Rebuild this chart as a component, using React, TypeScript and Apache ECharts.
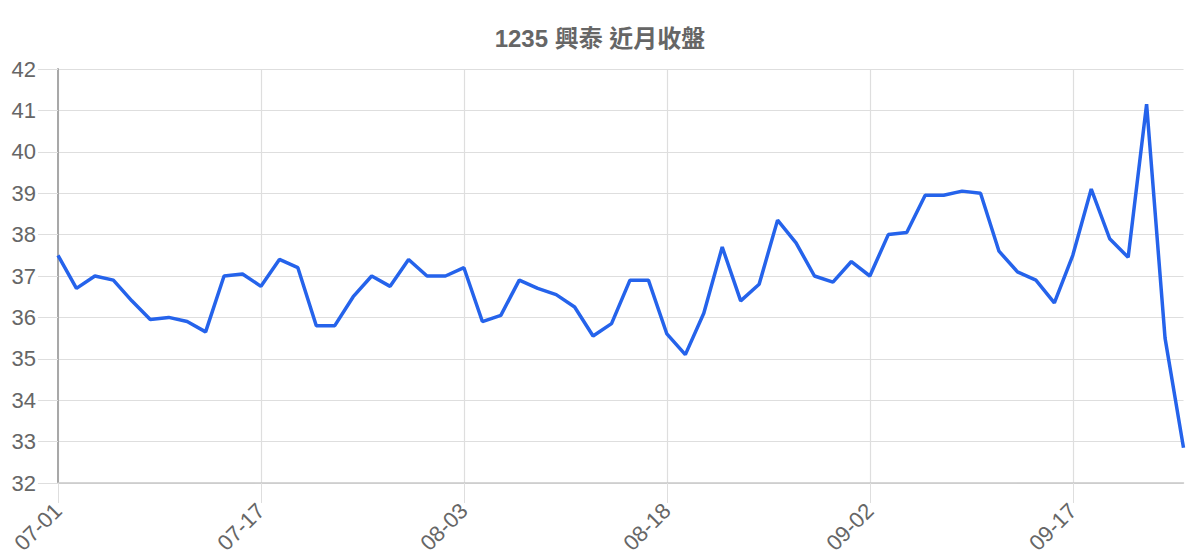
import React, { useEffect, useRef } from "react";
import * as echarts from "echarts";

const titleText = "1235 興泰 近月收盤";

const dates = [
  "07-01", "07-02", "07-03", "07-04", "07-05", "07-08", "07-09", "07-10", "07-11", "07-12", "07-15",
  "07-17", "07-18", "07-19", "07-22", "07-23", "07-24", "07-25", "07-26", "07-29", "07-30", "07-31",
  "08-03", "08-05", "08-06", "08-07", "08-08", "08-11", "08-12", "08-13", "08-14", "08-15", "08-16",
  "08-18", "08-19", "08-20", "08-21", "08-22", "08-25", "08-26", "08-27", "08-28", "08-29", "09-01",
  "09-02", "09-03", "09-04", "09-05", "09-08", "09-09", "09-10", "09-11", "09-12", "09-15", "09-16",
  "09-17", "09-18", "09-19", "09-22", "09-23", "09-24", "09-25",
];

const closes = [
  37.5, 36.7, 37.0, 36.9, 36.4, 35.95, 36.0, 35.9, 35.65, 37.0, 37.05,
  36.75, 37.4, 37.2, 35.8, 35.8, 36.5, 37.0, 36.75, 37.4, 37.0, 37.0,
  37.2, 35.9, 36.05, 36.9, 36.7, 36.55, 36.25, 35.55, 35.85, 36.9, 36.9,
  35.6, 35.1, 36.1, 37.7, 36.4, 36.8, 38.35, 37.8, 37.0, 36.85, 37.35,
  37.0, 38.0, 38.05, 38.95, 38.95, 39.05, 39.0, 37.6, 37.1, 36.9, 36.35,
  37.5, 39.1, 37.9, 37.45, 41.15, 35.5, 32.85,
];

const yMin = 32;
const yMax = 42;

const font = '"Liberation Sans", Arial, "Noto Sans CJK TC", sans-serif';
const gridColor = "#dedede";

const App = function () {
  const chart = useRef<HTMLDivElement>(null);

  useEffect(() => {
    if (!chart.current) return;
    const myChart = echarts.init(chart.current, undefined, { renderer: "svg" });
    const option = {
      animation: false,
      title: {
        text: titleText,
        left: "center",
        top: 21,
        textStyle: {
          color: "#666",
          fontSize: 24,
          fontWeight: "bold",
          fontFamily: font,
        },
      },
      grid: {
        left: 58,
        right: 16.5,
        top: 69,
        bottom: 77,
      },
      xAxis: {
        type: "category",
        data: dates,
        boundaryGap: false,
        axisLine: { show: true, lineStyle: { color: "#c8c8c8", width: 1.5 } },
        axisTick: {
          show: true,
          interval: 10,
          length: 20,
          lineStyle: { color: gridColor },
        },
        axisLabel: {
          interval: 10,
          rotate: 45,
          margin: 24,
          color: "#666",
          fontSize: 22,
          fontFamily: font,
        },
        splitLine: {
          show: true,
          interval: 10,
          lineStyle: { color: gridColor, width: 1.2 },
        },
      },
      yAxis: {
        type: "value",
        min: yMin,
        max: yMax,
        interval: 1,
        axisLine: { show: true, lineStyle: { color: "#a8a8a8", width: 2 } },
        axisTick: { show: true, length: 20, lineStyle: { color: gridColor } },
        axisLabel: {
          margin: 22,
          color: "#666",
          fontSize: 22,
          fontFamily: font,
        },
        splitLine: { show: true, lineStyle: { color: gridColor, width: 1.2 } },
      },
      series: [
        {
          name: "收盤",
          type: "line",
          data: closes,
          showSymbol: false,
          symbol: "none",
          lineStyle: { color: "#2563eb", width: 3.5 },
          itemStyle: { color: "#2563eb" },
        },
      ],
    };
    myChart.setOption(option);
    return () => {
      myChart.dispose();
    };
  }, []);

  return (
    <div
      ref={chart}
      style={{ position: "fixed", left: 0, top: 0, width: 1200, height: 560, background: "#fff" }}
    ></div>
  );
};

export default App;
